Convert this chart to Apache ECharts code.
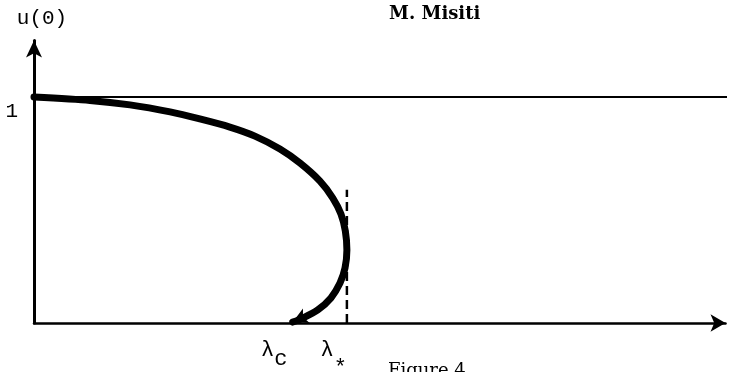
<!DOCTYPE html>
<html>
<head>
<meta charset="utf-8">
<script src="https://cdn.jsdelivr.net/npm/echarts@6/dist/echarts.min.js"></script>
<style>
  html, body { margin: 0; padding: 0; background: #fff; }
  #chart { width: 733px; height: 372px; }
</style>
</head>
<body>
<div id="chart"></div>
<script>
// Bifurcation branch u(0) versus lambda (lambda scaled so that lambda* = 1)
const branchLambda = [0, 0.179, 0.307, 0.435, 0.530, 0.626, 0.706, 0.786, 0.850, 0.914, 0.955, 0.981, 0.995, 1.0, 0.994, 0.978, 0.949, 0.907, 0.859, 0.827];
const branchU      = [1.0, 0.985, 0.965, 0.934, 0.903, 0.867, 0.827, 0.770, 0.708, 0.628, 0.553, 0.482, 0.407, 0.323, 0.243, 0.177, 0.111, 0.058, 0.022, 0.004];

// Marked parameter values
const lambdaC = 0.81;
const lambdaStar = 1.0;
// Height reached by the dashed marker at lambda*
const starLineTop = 0.59;
// Reference level u(0) = 1
const uLevel = 1;
const yTickLabels = [1];

const monoFont = '"Liberation Mono", "DejaVu Sans Mono", monospace';
const serifFont = '"DejaVu Serif", "Liberation Serif", serif';

const branchData = branchLambda.map(function (l, i) {
  const item = { value: [l, branchU[i]] };
  if (i === branchLambda.length - 1) {
    item.symbol = 'arrow';
    item.symbolSize = [12, 15];
    item.symbolRotate = 115;
  }
  return item;
});

const chart = echarts.init(document.getElementById('chart'), null, { renderer: 'canvas' });

chart.setOption({
  backgroundColor: '#ffffff',
  animation: false,
  title: [
    {
      text: 'M. Misiti',
      left: 384, top: 0,
      textStyle: { fontFamily: serifFont, fontSize: 18, fontWeight: 'bold', color: '#000' }
    },
    {
      text: 'Figure 4',
      left: 383, top: 357,
      textStyle: { fontFamily: serifFont, fontSize: 18, fontWeight: 'normal', color: '#000' }
    }
  ],
  grid: { left: 34, right: 7.5, top: 40.5, bottom: 49, containLabel: false, outerBoundsMode: 'none' },
  xAxis: {
    type: 'value',
    min: 0, max: 2.21,
    splitLine: { show: false },
    axisTick: { show: false },
    axisLine: {
      show: true,
      symbol: ['none', 'arrow'],
      symbolSize: [13, 15],
      lineStyle: { color: '#000', width: 2.5 }
    },
    axisLabel: {
      customValues: [lambdaC, lambdaStar],
      align: 'right',
      margin: 16,
      formatter: function (v) {
        return v === lambdaC ? '{l|λ}{c|c}' : '{l|λ}{s|*}';
      },
      rich: {
        l: { fontFamily: monoFont, fontSize: 22, color: '#000', verticalAlign: 'top', lineHeight: 22 },
        c: { fontFamily: monoFont, fontSize: 22, color: '#000', verticalAlign: 'top', lineHeight: 22, padding: [9, 0, 0, 0] },
        s: { fontFamily: monoFont, fontSize: 22, color: '#000', verticalAlign: 'top', lineHeight: 22, padding: [18, 0, 0, 0] }
      }
    }
  },
  yAxis: {
    type: 'value',
    min: 0, max: 1.25,
    name: 'u(0)',
    nameLocation: 'end',
    nameGap: 12,
    nameTextStyle: { fontFamily: monoFont, fontSize: 21, color: '#000', padding: [0, 0, 0, 16] },
    splitLine: { show: false },
    axisTick: { show: false },
    axisLine: {
      show: true,
      symbol: ['none', 'arrow'],
      symbolSize: [12, 17],
      lineStyle: { color: '#000', width: 3 }
    },
    axisLabel: {
      customValues: yTickLabels,
      margin: 16,
      verticalAlign: 'top',
      padding: [4, 0, 0, 0],
      fontFamily: monoFont,
      fontSize: 21,
      color: '#000',
      formatter: function (v) { return String(v); }
    }
  },
  series: [
    {
      name: 'level',
      type: 'line',
      data: [[0, uLevel], [2.235, uLevel]],
      symbol: 'none',
      clip: false,
      silent: true,
      lineStyle: { color: '#000', width: 2 },
      z: 2
    },
    {
      name: 'lambdaStar',
      type: 'line',
      data: [[lambdaStar, 0], [lambdaStar, starLineTop]],
      symbol: 'none',
      silent: true,
      lineStyle: { color: '#000', width: 2.5, type: [9, 5] },
      z: 2
    },
    {
      name: 'branch',
      type: 'line',
      data: branchData,
      smooth: 0.25,
      symbol: 'none',
      showSymbol: true,
      silent: true,
      itemStyle: { color: '#000' },
      lineStyle: { color: '#000', width: 7, cap: 'round', join: 'round' },
      z: 3
    }
  ]
});
</script>
</body>
</html>
